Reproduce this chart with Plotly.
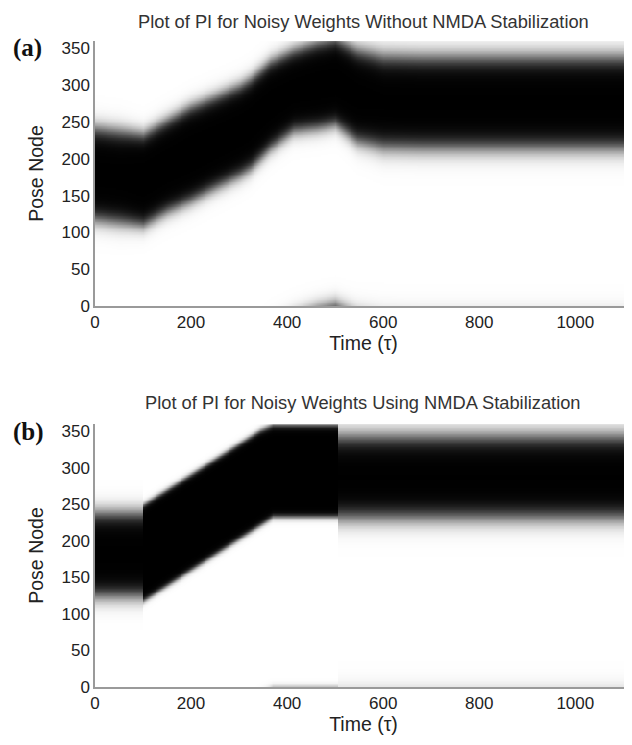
import numpy as np
import plotly.graph_objects as go

# Activity packet: keypoint times, packet centre, half-width, edge softness
times_a = [0, 50, 100, 150, 198, 250, 302, 323, 365, 413, 462, 500, 546, 600, 680, 800, 1000, 1120]
center_a = [180, 176, 172, 191, 207, 223, 239, 248, 274, 293, 300, 305, 286, 278, 277, 277, 277, 277]
halfw_a = [62, 62, 62, 62, 64, 62, 61, 61, 59, 55, 58, 58, 62, 62, 62, 62, 62, 62]
soft_a = [7, 7, 6, 6, 6, 6, 6, 6, 6, 6, 6, 6, 7, 8, 8, 8, 8, 8]

times_b = [0, 99.9, 100, 344, 370, 505, 505.1, 1120]
center_b = [182, 182, 184, 287, 296, 296, 288, 288]
halfw_b = [57, 57, 66, 65, 63, 63, 56, 56]
soft_b = [7, 7, 2.3, 2.3, 2.3, 2.3, 8, 8]

x_ticks = [0, 200, 400, 600, 800, 1000]
y_ticks = [0, 50, 100, 150, 200, 250, 300, 350]
titles = ["Plot of PI for Noisy Weights Without NMDA Stabilization",
          "Plot of PI for Noisy Weights Using NMDA Stabilization"]
panel_labels = ["(a)", "(b)"]

t = np.arange(0, 1122, 2.0)
nodes = np.arange(0, 361, 2.0)


def packet(times, center, halfw, soft):
    c = np.interp(t, times, center)
    w = np.interp(t, times, halfw)
    s = np.interp(t, times, soft)
    d = np.abs(((nodes[:, None] - c[None, :] + 180) % 360) - 180)
    z = 1.0 / (1.0 + np.exp((d - w[None, :]) / s[None, :]))
    return np.round(z, 3)


za = packet(times_a, center_a, halfw_a, soft_a)
zb = packet(times_b, center_b, halfw_b, soft_b)

fig = go.Figure()
gray = [[0, "white"], [1, "black"]]
fig.add_trace(go.Heatmap(x=t, y=nodes, z=za, colorscale=gray, zmin=0, zmax=1,
                         showscale=False, zsmooth="best", xaxis="x", yaxis="y"))
fig.add_trace(go.Heatmap(x=t, y=nodes, z=zb, colorscale=gray, zmin=0, zmax=1,
                         showscale=False, zsmooth="best", xaxis="x2", yaxis="y2"))

# page has an 8px body margin; figure coordinates = page coordinates - 8
OFF = 8.0
W = 624.0
H = 737.0
L = 95.0 - OFF
PW = W - L
dom_top = [(H - (306 - OFF)) / H, (H - (41 - OFF)) / H]
dom_bot = [(H - (687 - OFF)) / H, (H - (424 - OFF)) / H]

FONT = "Liberation Sans, Arial"
tick_font = dict(family=FONT, size=17, color="#222")
title_font = dict(family=FONT, size=19.5, color="#222")
axis_common = dict(showgrid=False, zeroline=False, showline=True, linecolor="#9a9a9a",
                   linewidth=1.5, ticks="", tickfont=tick_font, automargin=False)
fig.update_layout(
    width=W, height=H,
    margin=dict(l=L, r=0, t=0, b=0),
    paper_bgcolor="white", plot_bgcolor="white",
    xaxis=dict(domain=[0, 1], range=[0, 1118], tickvals=x_ticks, anchor="y",
               title=dict(text="Time (τ)", font=title_font, standoff=2), **axis_common),
    yaxis=dict(domain=dom_top, range=[0, 360], tickvals=y_ticks, anchor="x",
               title=dict(text="Pose Node", font=title_font, standoff=13), **axis_common),
    xaxis2=dict(domain=[0, 1], range=[0, 1118], tickvals=x_ticks, anchor="y2",
                title=dict(text="Time (τ)", font=title_font, standoff=2), **axis_common),
    yaxis2=dict(domain=dom_bot, range=[0, 360], tickvals=y_ticks, anchor="x2",
                title=dict(text="Pose Node", font=title_font, standoff=13), **axis_common),
)

for i, (title, lab) in enumerate(zip(titles, panel_labels)):
    ty = (21 if i == 0 else 402) - OFF
    ly = (48 if i == 0 else 432) - OFF
    fig.add_annotation(text=title, xref="paper", yref="paper", x=(363 - OFF - L) / PW, y=1 - ty / H,
                       xanchor="center", yanchor="middle", showarrow=False,
                       font=dict(family=FONT, size=18.3, color="#333"))
    fig.add_annotation(text="<b>" + lab + "</b>", xref="paper", yref="paper", x=(11 - OFF - L) / PW, y=1 - ly / H,
                       xanchor="left", yanchor="middle", showarrow=False,
                       font=dict(family="Liberation Serif, Times New Roman", size=25, color="#111"))

fig.write_html("out.html")
